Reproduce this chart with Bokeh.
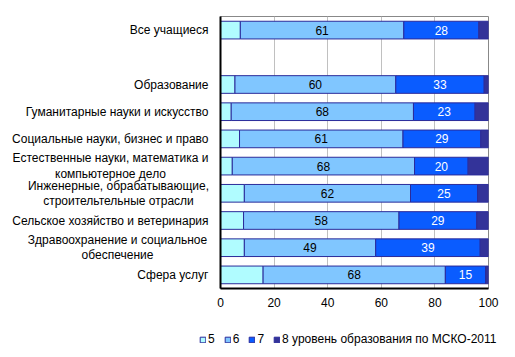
from bokeh.plotting import figure
from bokeh.models import ColumnDataSource, FactorRange, LabelSet, Legend, LegendItem, Range1d
from bokeh.layouts import row, column
from bokeh.core.properties import value
from bokeh.embed import file_html
from bokeh.resources import INLINE

categories = [
    "Все учащиеся",
    " ",
    "Образование",
    "Гуманитарные науки и искусство",
    "Социальные науки, бизнес и право",
    "Естественные науки, математика и\nкомпьютерное дело",
    "Инженерные, обрабатывающие,\nстроительтельные отрасли",
    "Сельское хозяйство и ветеринария",
    "Здравоохранение и социальное\nобеспечение",
    "Сфера услуг",
]
v5 = [7.4, 0, 5.4, 4.0, 7.1, 4.4, 8.9, 8.6, 8.9, 15.9]
v6 = [61, 0, 60, 68, 61, 68, 62, 58, 49, 68]
v7 = [28, 0, 33, 23, 29, 20, 25, 29, 39, 15]
v8 = [3.6, 0, 1.6, 5.0, 2.9, 7.6, 4.1, 4.4, 3.1, 1.1]
series = ["5", "6", "7", "8 уровень образования по МСКО-2011"]
colors = ["#B0FCFF", "#80C6FF", "#0A5CFF", "#333399"]
x_ticks = [0, 20, 40, 60, 80, 100]

FONT = "Liberation Sans"
TOP, FRAME_H, MAIN_BOTTOM = 16, 272, 30
stack_cols = ["s5", "s6", "s7", "s8"]

yr = FactorRange(*reversed(categories), range_padding=0)
src = ColumnDataSource(dict(cat=categories, s5=v5, s6=v6, s7=v7, s8=v8))

# ---------------- main chart ----------------
p = figure(width=303, height=TOP + FRAME_H + MAIN_BOTTOM, output_backend="svg",
           toolbar_location=None, y_range=yr, x_range=Range1d(0, 100))
p.frame_width = 268
p.frame_height = FRAME_H
p.min_border_left = 8
p.min_border_right = 27
p.min_border_top = TOP
p.min_border_bottom = MAIN_BOTTOM

p.hbar_stack(stack_cols, y="cat", height=0.65, source=src,
             fill_color=colors, line_color="#2B2B9A", line_width=1)

mid6 = [a + b / 2 for a, b in zip(v5, v6)]
mid7 = [a + b + c / 2 for a, b, c in zip(v5, v6, v7)]
lab6 = [str(v) if v else "" for v in v6]
lab7 = [str(v) if v else "" for v in v7]
lsrc = ColumnDataSource(dict(cat=categories, m6=mid6, m7=mid7, t6=lab6, t7=lab7))
p.add_layout(LabelSet(x="m6", y="cat", text="t6", source=lsrc, text_align="center",
                      text_baseline="middle", text_font=value(FONT),
                      text_font_size=value("12px"), text_color="black"))
p.add_layout(LabelSet(x="m7", y="cat", text="t7", source=lsrc, text_align="center",
                      text_baseline="middle", text_font=value(FONT),
                      text_font_size=value("12px"), text_color="white"))

p.xgrid.grid_line_color = "#C0C0C0"
p.ygrid.grid_line_color = None
p.xaxis.ticker = x_ticks
p.xaxis.major_tick_line_color = None
p.xaxis.minor_tick_line_color = None
p.xaxis.axis_line_color = "black"
p.xaxis.axis_line_width = 2
p.xaxis.major_label_text_font = FONT
p.xaxis.major_label_text_font_size = "12px"
p.xaxis.major_label_text_color = "black"
p.xaxis.major_label_standoff = 3

p.yaxis.major_tick_line_color = None
p.yaxis.minor_tick_line_color = None
p.yaxis.axis_line_color = "black"
p.yaxis.axis_line_width = 2
p.yaxis.major_label_text_font_size = "0px"
p.yaxis.major_label_standoff = 0

p.outline_line_color = "#888888"
p.border_fill_color = "white"

# ---------------- category labels ----------------
LABEL_W = 212
lf = figure(width=LABEL_W, height=TOP + FRAME_H + MAIN_BOTTOM, output_backend="svg",
            toolbar_location=None, y_range=yr, x_range=Range1d(0, LABEL_W),
            x_axis_type=None, y_axis_type=None)
lf.frame_width = LABEL_W
lf.frame_height = FRAME_H
lf.min_border_left = 0
lf.min_border_right = 0
lf.min_border_top = TOP
lf.min_border_bottom = MAIN_BOTTOM
lf.outline_line_color = None
lf.grid.grid_line_color = None

single = [c for c in categories if "\n" not in c]
multi = [c for c in categories if "\n" in c]
single_x = [208] * len(single)          # right edge of single-line labels
multi_x = [110, 118, 117]               # centre of multi-line labels
lf.text(x=single_x, y=single, text=single, text_align="right", text_baseline="middle",
        text_font=value(FONT), text_font_size="12px", text_color="black")
lf.text(x=multi_x, y=multi, text=multi, text_align="center", text_baseline="middle",
        text_font=value(FONT), text_font_size="12px", text_color="black",
        text_line_height=1.1)

# ---------------- legend ----------------
LEG_H = 357 - (TOP + FRAME_H + MAIN_BOTTOM)
gf = figure(width=515, height=LEG_H, output_backend="svg", toolbar_location=None,
            x_axis_type=None, y_axis_type=None, x_range=Range1d(0, 100),
            y_range=FactorRange("legend"), min_border=0)
gf.outline_line_color = None
gf.grid.grid_line_color = None
# same stacked bars; their categories are outside this range, so only the legend shows
rs = gf.hbar_stack(stack_cols, y="cat", height=0.65, source=src,
                   fill_color=colors, line_color="#2B2B9A", line_width=1)
items = [LegendItem(label=s, renderers=[r]) for s, r in zip(series, rs)]
legend = Legend(items=items, orientation="horizontal", location=(199, LEG_H - 28),
                label_text_font=FONT, label_text_font_size="12px",
                glyph_width=7, glyph_height=7, label_standoff=2, spacing=9,
                padding=0, margin=0, border_line_color=None, label_width=0,
                background_fill_alpha=0, label_height=12, label_text_color="black")
gf.add_layout(legend, "center")

layout = column(row(lf, p, spacing=0), gf, spacing=0)
open("out.html", "w").write(file_html(layout, INLINE))
